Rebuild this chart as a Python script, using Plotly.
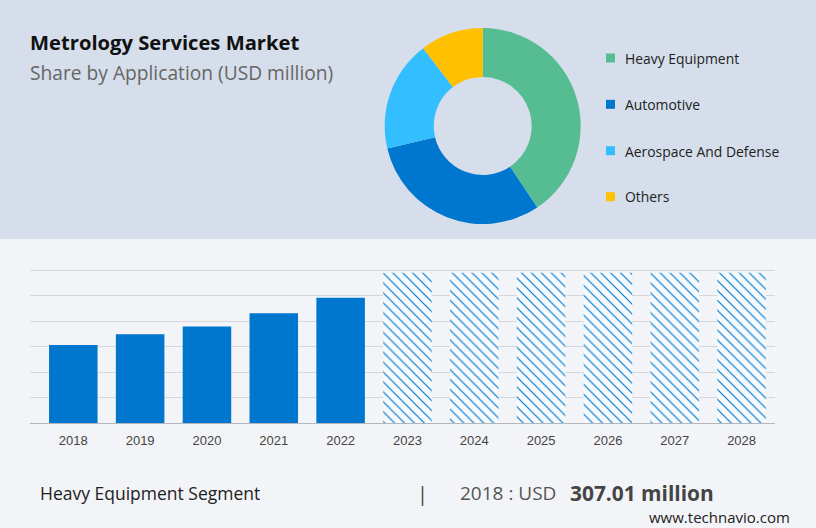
import plotly.graph_objects as go

W, H = 816, 528

years = ["2018", "2019", "2020", "2021", "2022", "2023", "2024", "2025", "2026", "2027", "2028"]
actual_values = [307.01, 349, 380, 432, 492, None, None, None, None, None, None]
forecast_values = [None, None, None, None, None, 590, 590, 590, 590, 590, 590]

segments = ["Heavy Equipment", "Automotive", "Aerospace And Defense", "Others"]
shares = [40.6, 30.7, 18.3, 10.4]
segment_colors = ["#56bd93", "#0077cf", "#33bfff", "#ffc000"]

TITLE = "Metrology Services Market"
SUBTITLE = "Share by Application (USD million)"
FONT = "Open Sans"


def px(x):
    return x / W


def py(y):
    return 1 - y / H


fig = go.Figure()
fig.add_trace(go.Pie(
    labels=segments, values=shares, hole=0.5, sort=False, direction="clockwise",
    rotation=0, textinfo="none", showlegend=False,
    marker=dict(colors=segment_colors, line=dict(width=0)),
    domain=dict(x=[px(384.7), px(580.7)], y=[py(224), py(28)]),
))
fig.add_trace(go.Bar(
    x=years, y=actual_values, width=0.726, showlegend=False,
    marker=dict(color="#0077cf", line=dict(width=0)),
))
fig.add_trace(go.Bar(
    x=years, y=forecast_values, width=0.726, showlegend=False,
    marker=dict(color="#f6fafd", line=dict(width=0),
                pattern=dict(shape="\\", size=7, solidity=0.17, fgopacity=1,
                             fgcolor="#0077cf", bgcolor="#f6fafd")),
))

shapes = [
    dict(type="rect", xref="paper", yref="paper", x0=0, x1=1, y0=py(239), y1=1,
         fillcolor="#d5deea", line_width=0, layer="below"),
    dict(type="rect", xref="paper", yref="paper", x0=0, x1=1, y0=0, y1=py(239),
         fillcolor="#f3f4f7", line_width=0, layer="below"),
]
annotations = []


def text(x, y, s, size, color, anchor="left", family=FONT):
    annotations.append(dict(xref="paper", yref="paper", x=px(x), y=py(y), text=s,
                            showarrow=False, xanchor=anchor, yanchor="middle",
                            font=dict(size=size, color=color, family=family),
                            borderpad=0, borderwidth=0))


swatch_y = [58, 104.3, 150.7, 196.7]
label_y = [59, 104.2, 151, 197]
for name, color, sy, ly in zip(segments, segment_colors, swatch_y, label_y):
    shapes.append(dict(type="rect", xref="paper", yref="paper",
                       x0=px(606), x1=px(615), y0=py(sy + 4.5), y1=py(sy - 4.5),
                       fillcolor=color, line_width=0))
    text(625, ly, name, 13.9, "#222222")

text(30, 42.2, f"<b>{TITLE}</b>", 20.2, "#111111")
text(30, 73, SUBTITLE, 19.2, "#666666")
text(40, 493, "Heavy Equipment Segment", 17.5, "#222222")
text(422, 493, "|", 20, "#444444", "center")
text(460, 493, "2018 : USD", 19, "#555555")
text(570, 493, "<b>307.01 million</b>", 20.9, "#444444")
text(790, 517, "www.technavio.com", 15, "#222222", "right")

GRID_TOP_PX = 270.3
BASE_PX = 423.3
HEADROOM_PX = 4  # plotly drops gridlines within 1px of the axis ends
fig.update_layout(
    width=W, height=H, margin=dict(l=0, r=0, t=0, b=0, pad=0, autoexpand=False),
    paper_bgcolor="#f3f4f7", plot_bgcolor="rgba(0,0,0,0)",
    barmode="overlay", showlegend=False, font=dict(family=FONT),
    shapes=shapes, annotations=annotations,
    xaxis=dict(domain=[px(30), px(775)], type="category", range=[-0.648, 10.5],
               showgrid=False, ticks="", showline=True, linecolor="#b4b6bb", linewidth=1,
               tickfont=dict(family="Liberation Sans", size=13, color="#444444"),
               ticklabelstandoff=5, fixedrange=True),
    yaxis=dict(domain=[py(BASE_PX), py(GRID_TOP_PX - HEADROOM_PX)],
               range=[0, 600 * (BASE_PX - GRID_TOP_PX + HEADROOM_PX) / (BASE_PX - GRID_TOP_PX)],
               dtick=100, showticklabels=False, showgrid=True, gridcolor="#d6d7dc", gridwidth=1,
               zeroline=False, fixedrange=True),
)

fig.write_html("out.html", post_script="document.body.style.margin='0';",
               config=dict(displayModeBar=False))
